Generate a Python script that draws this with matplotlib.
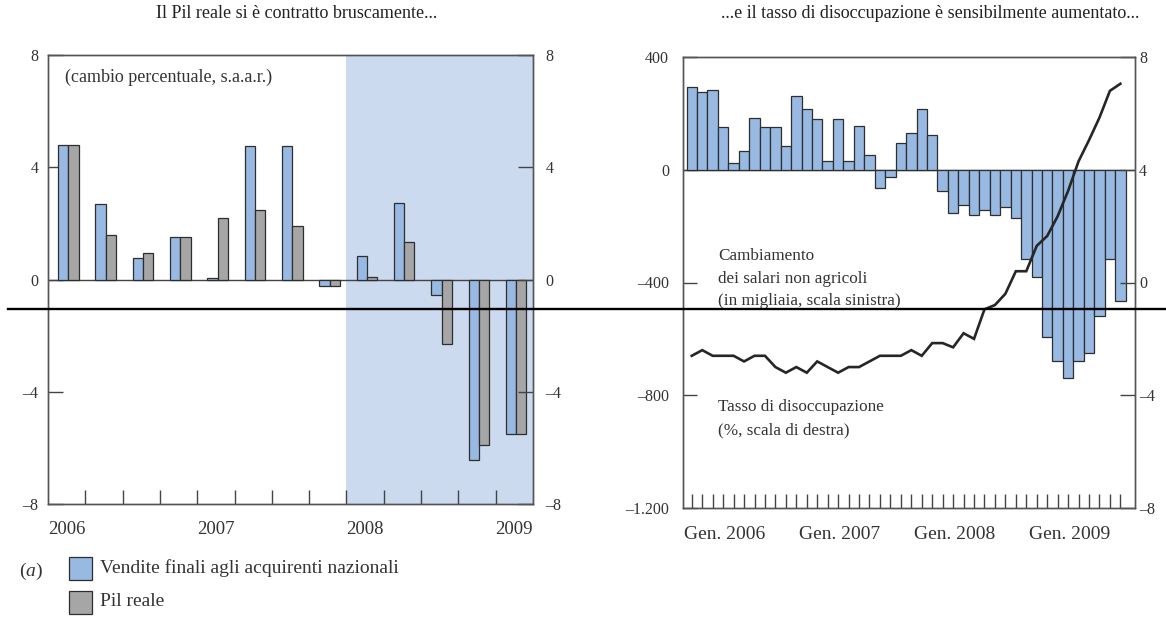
import numpy as np
import matplotlib
matplotlib.use("Agg")
import matplotlib.pyplot as plt
from matplotlib.patches import Rectangle
from matplotlib.lines import Line2D

plt.rcParams['font.family'] = ['Liberation Serif', 'DejaVu Serif']
plt.rcParams['mathtext.fontset'] = 'custom'
plt.rcParams['mathtext.rm'] = 'Liberation Serif'
plt.rcParams['mathtext.it'] = 'Liberation Serif:italic'

# ---------------- data ----------------
# Left panel: quarterly, 2006Q1 .. 2009Q1 (percent change, s.a.a.r.)
quarters = ["2006Q1", "2006Q2", "2006Q3", "2006Q4",
            "2007Q1", "2007Q2", "2007Q3", "2007Q4",
            "2008Q1", "2008Q2", "2008Q3", "2008Q4", "2009Q1"]
vendite_finali = [4.8, 2.7, 0.75, 1.5, 0.05, 4.75, 4.75, -0.22, 0.83, 2.74, -0.56, -6.42, -5.52]
pil_reale = [4.8, 1.6, 0.96, 1.5, 2.18, 2.49, 1.9, -0.22, 0.08, 1.32, -2.29, -5.9, -5.52]
year_labels_left = ["2006", "2007", "2008", "2009"]
recession_start_quarter = "2008Q1"

# Right panel: monthly, Jan 2006 .. Jun 2009
payroll_change = [292, 275, 284, 152, 24, 66, 185, 152, 152, 84,
                  261, 216, 181, 32, 181, 32, 156, 54, -66, -26,
                  96, 131, 216, 122, -74, -152, -124, -162, -142, -162,
                  -132, -172, -318, -382, -592, -680, -738, -680, -650, -520,
                  -318, -465]
unemployment = [-2.6, -2.4, -2.6, -2.6, -2.6, -2.8, -2.6, -2.6, -3.0, -3.2,
                -3.0, -3.2, -2.8, -3.0, -3.2, -3.0, -3.0, -2.8, -2.6, -2.6,
                -2.6, -2.4, -2.6, -2.15, -2.15, -2.3, -1.8, -2.0, -0.95, -0.8,
                -0.4, 0.4, 0.4, 1.3, 1.65, 2.35, 3.25, 4.3, 5.05, 5.85,
                6.8, 7.05]
month_labels = ["Gen. 2006", "Gen. 2007", "Gen. 2008", "Gen. 2009"]
month_label_pos = [3.16, 14.16, 25.16, 36.16]

left_ticks = [-8, -4, 0, 4, 8]
left_ticklabels = ["\u20138", "\u20134", "0", "4", "8"]
payroll_ticks = [-1200, -800, -400, 0, 400]
payroll_ticklabels = ["\u20131.200", "\u2013800", "\u2013400", "0", "400"]

# ---------------- style ----------------
BLUE = "#98b9e2"
GREY = "#a6a6a6"
SHADE = "#cbdaef"
EDGE = "#2e2e2e"
SPINE = "#555555"
TXT = "#333333"

W, H = 1166, 617
fig = plt.figure(figsize=(W / 100, H / 100), dpi=100)


def frac_box(x0, y0, x1, y1):
    return [x0 / W, 1 - y1 / H, (x1 - x0) / W, (y1 - y0) / H]


# ================= left panel =================
ax1 = fig.add_axes(frac_box(48, 55, 533, 504))
nq = len(quarters)
xq = np.arange(nq)
ax1.set_xlim(0, nq)
ax1.set_ylim(-8, 8)

rec_idx = quarters.index(recession_start_quarter)
ax1.axvspan(rec_idx, nq, color=SHADE, lw=0, zorder=0)
ax1.axhline(0, color="#444444", lw=1.0, zorder=1)

bw = 0.275
ax1.bar(xq + 0.41, vendite_finali, width=bw, color=BLUE, edgecolor=EDGE, lw=0.9, zorder=2)
ax1.bar(xq + 0.41 + bw, pil_reale, width=bw, color=GREY, edgecolor=EDGE, lw=0.9, zorder=2)

ax1.set_xticks(np.arange(0, nq, 4) + 0.5)
ax1.set_xticklabels(year_labels_left, fontsize=13.5, color=TXT)
ax1.set_xticks(np.arange(1, nq), minor=True)
ax1.tick_params(axis="x", which="major", length=0, pad=12)
ax1.tick_params(axis="x", which="minor", direction="in", length=10, width=1.0, color="#444444")

ax1.set_yticks(left_ticks)
ax1.set_yticklabels(left_ticklabels, fontsize=11.5, color=TXT)
ax1.tick_params(axis="y", direction="in", length=10.5, width=1.0, color="#444444", pad=7)

ax1r = ax1.twinx()
ax1r.set_ylim(-8, 8)
ax1r.set_yticks(left_ticks)
ax1r.set_yticklabels(left_ticklabels, fontsize=11.5, color=TXT)
ax1r.tick_params(axis="y", direction="in", length=10.5, width=1.0, color="#444444", pad=9)

for a in (ax1, ax1r):
    for s in a.spines.values():
        s.set_color(SPINE)
        s.set_linewidth(1.0)

ax1.text(0.035, 0.951, "(cambio percentuale, s.a.a.r.)", transform=ax1.transAxes,
         fontsize=13, color=TXT, va="center", ha="left")

# ================= right panel =================
ax2 = fig.add_axes(frac_box(683, 57, 1135, 508))
nm = len(payroll_change)
xm = np.arange(nm)
ax2.set_xlim(-0.84, 42.4)
ax2.set_ylim(-1200, 400)

ax2.axhline(0, color="#444444", lw=1.0, zorder=1)
ax2.bar(xm, payroll_change, width=1.0, color=BLUE, edgecolor=EDGE, lw=0.9, zorder=2)

ax2.set_xticks(month_label_pos)
ax2.set_xticklabels(month_labels, fontsize=14, color=TXT)
ax2.set_xticks(xm, minor=True)
ax2.tick_params(axis="x", which="major", length=0, pad=13)
ax2.tick_params(axis="x", which="minor", direction="in", length=10, width=1.0, color="#444444")

ax2.set_yticks(payroll_ticks)
ax2.set_yticklabels(payroll_ticklabels, fontsize=11.5, color=TXT)
ax2.tick_params(axis="y", direction="in", length=9.8, width=1.0, color="#444444", pad=10)

ax2r = ax2.twinx()
ax2r.set_ylim(-8, 8)
ax2r.set_yticks(left_ticks)
ax2r.set_yticklabels(left_ticklabels, fontsize=11.5, color=TXT)
ax2r.tick_params(axis="y", direction="in", length=10.8, width=1.0, color="#444444", pad=3)
ax2r.plot(xm, unemployment, color="#262626", lw=1.9, zorder=3, solid_joinstyle="miter")

for a in (ax2, ax2r):
    for s in a.spines.values():
        s.set_color(SPINE)
        s.set_linewidth(1.0)

ann_x = (718 - 683) / 452
for txt, ypx in [("Cambiamento", 256), ("dei salari non agricoli", 279),
                 ("(in migliaia, scala sinistra)", 301),
                 ("Tasso di disoccupazione", 407), ("(%, scala di destra)", 430)]:
    ax2.text(ann_x, (508 - ypx) / 451, txt, transform=ax2.transAxes,
             fontsize=12.3, color=TXT, va="center", ha="left", zorder=5)

# ================= titles =================
fig.text(297 / W, 1 - 14 / H, "Il Pil reale si è contratto bruscamente...",
         fontsize=13, color="#222222", ha="center", va="center")
fig.text(930 / W, 1 - 14 / H, "...e il tasso di disoccupazione è sensibilmente aumentato...",
         fontsize=13, color="#222222", ha="center", va="center")

# ================= legend =================
fig.text(19 / W, 1 - 571 / H, r"($\mathit{a}$)", fontsize=14, color=TXT, ha="left", va="center")
for color, label, yc in [(BLUE, "Vendite finali agli acquirenti nazionali", 568),
                         (GREY, "Pil reale", 602)]:
    fig.add_artist(Rectangle((69 / W, 1 - (yc + 11.5) / H), 23 / W, 23 / H,
                             transform=fig.transFigure, facecolor=color,
                             edgecolor=EDGE, lw=0.9))
    fig.text(100 / W, 1 - yc / H, label, fontsize=14, color=TXT, ha="left", va="center")

# rule across the figure
fig.add_artist(Line2D([8 / W, 1.0], [1 - 309 / H, 1 - 309 / H], transform=fig.transFigure,
                      color="black", lw=1.7, zorder=10))

fig.savefig("out.png", dpi=100)
